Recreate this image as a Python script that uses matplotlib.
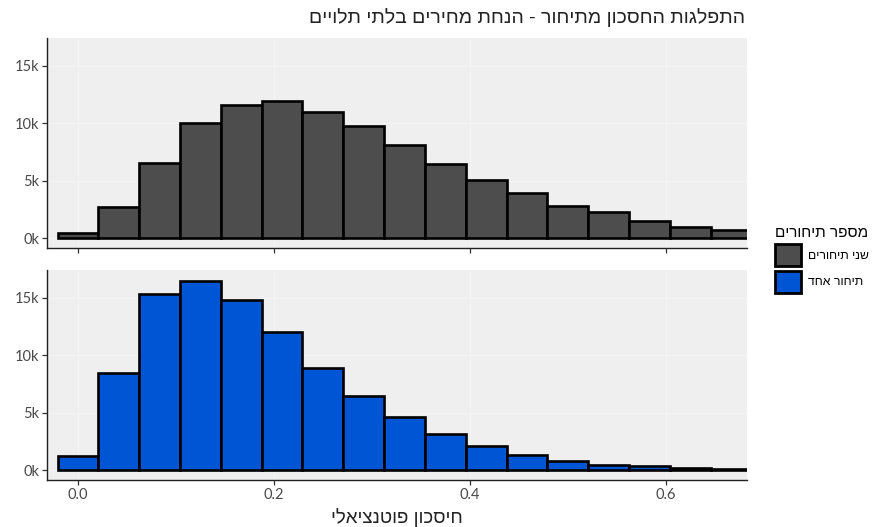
import matplotlib
matplotlib.use("Agg")
from matplotlib import pyplot as plt
from matplotlib.patches import Patch
import numpy as np

# histogram counts, bins of width 1/24 centred on 0, 1/24, 2/24 ...
bin_width = 1 / 24
two_rounds = [450, 2750, 6520, 10050, 11620, 11940, 11000, 9800, 8110,
              6510, 5070, 3910, 2840, 2260, 1500, 1000, 720]
one_round = [1270, 8450, 15380, 16500, 14800, 12000, 8930, 6500, 4680,
             3200, 2140, 1360, 840, 490, 350, 200, 150]
centers = np.arange(len(two_rounds)) * bin_width

series = [("שני תיחורים", two_rounds, "#4d4d4d"),
          ("תיחור אחד", one_round, "#0055d4")]

title = "התפלגות החסכון מתיחור - הנחת מחירים בלתי תלויים"
xlabel = "חיסכון פוטנציאלי"
legend_title = "מספר תיחורים"

xticks = [0.0, 0.2, 0.4, 0.6]
yticks = [0, 5000, 10000, 15000]
ytick_labels = ["0k", "5k", "10k", "15k"]


def rtl(s):
    # matplotlib has no bidi support, so flip hebrew strings by hand
    return s[::-1]


heb = ["Liberation Sans", "DejaVu Sans"]
num_font = ["Lato", "DejaVu Sans"]

fig = plt.figure(figsize=(8.75, 5.27), dpi=100)
W, H = 875, 527
left, right = 47 / W, 747 / W
panels = [(38, 248), (270, 480)]

axes = []
for (top_px, bot_px), (name, counts, color) in zip(panels, series):
    ax = fig.add_axes([left, 1 - bot_px / H, right - left, (bot_px - top_px) / H])
    ax.set_facecolor("#efefef")
    ax.grid(True, color="#f6f6f6", lw=0.6)
    ax.set_axisbelow(True)
    ax.bar(centers, counts, width=bin_width, color=color,
           edgecolor="black", linewidth=1.9, zorder=3)
    ax.set_xlim(-0.0316, 0.683)
    ax.set_ylim(-830, 17430)
    ax.set_yticks(yticks)
    ax.set_yticklabels(ytick_labels, family=num_font, fontsize=10.5, color="#4a4a4a")
    ax.set_xticks(xticks)
    for s in ["top", "right"]:
        ax.spines[s].set_visible(False)
    for s in ["left", "bottom"]:
        ax.spines[s].set_color("#222222")
        ax.spines[s].set_linewidth(1.0)
    ax.tick_params(length=3.5, width=0.9, color="#333333", pad=2)
    axes.append(ax)

axes[0].tick_params(axis="x", labelbottom=False)
axes[1].set_xticklabels(["0.0", "0.2", "0.4", "0.6"], family=num_font,
                        fontsize=10.5, color="#4a4a4a")

fig.text(745 / W, 1 - 18 / H, rtl(title), ha="right", va="center",
         family=heb, fontsize=14, color="#222222")
fig.text(397 / W, 1 - 518 / H, rtl(xlabel), ha="center", va="center",
         family=heb, fontsize=13.5, color="#222222")

handles = [Patch(facecolor=c, edgecolor="black", linewidth=2.0) for _, _, c in series]
labels = [rtl(n) for n, _, _ in series]
leg = fig.legend(handles, labels, loc="upper left",
                 bbox_to_anchor=(770 / W, 1 - 221 / H),
                 frameon=False, title=rtl(legend_title),
                 prop={"family": heb, "size": 8.8},
                 title_fontproperties={"family": heb, "size": 11},
                 handlelength=2.1, handleheight=2.4, labelspacing=0.35,
                 handletextpad=0.6, alignment="left", borderaxespad=0)

fig.savefig("out.png", dpi=100)
